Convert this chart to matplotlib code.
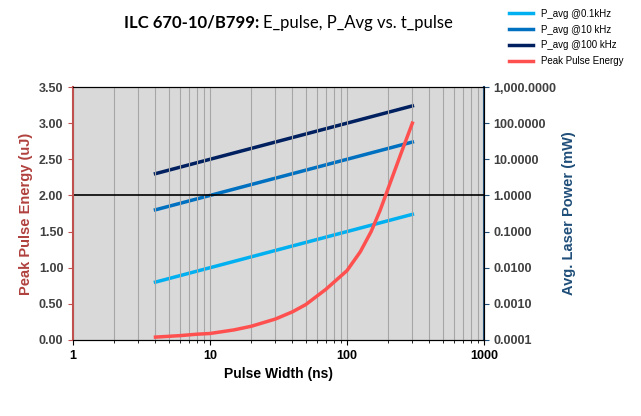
import matplotlib
matplotlib.use("Agg")
import matplotlib.pyplot as plt
import numpy as np
from matplotlib.ticker import FixedLocator, FuncFormatter

t_power = [4, 300]
p_01k = [0.004, 0.3]
p_10k = [0.4, 30]
p_100k = [4, 300]
t_energy = [4, 6, 8, 10, 15, 20, 30, 40, 50, 70, 100, 125, 150, 175, 200, 250, 300]
energy = [0.04, 0.06, 0.08, 0.09, 0.14, 0.19, 0.29, 0.39, 0.49, 0.70, 0.96, 1.22, 1.5, 1.8, 2.1, 2.6, 3.0]
left_ticks = [0, 0.5, 1.0, 1.5, 2.0, 2.5, 3.0, 3.5]
right_ticks = [0.0001, 0.001, 0.01, 0.1, 1, 10, 100, 1000]
x_ticks = [1, 10, 100, 1000]

plt.rcParams["font.family"] = "Liberation Sans"
fig = plt.figure(figsize=(6.41, 4.16), dpi=100)
ax = fig.add_axes([73/641, 1-340/416, 411/641, 253/416])
ax.set_facecolor("#D9D9D9")
ax.set_xscale("log")
ax.set_xlim(1, 1000)
ax.set_ylim(0, 3.5)
ax.xaxis.set_major_locator(FixedLocator(x_ticks))
ax.xaxis.set_major_formatter(FuncFormatter(lambda v, p: f"{v:g}"))
ax.set_yticks(left_ticks)
ax.yaxis.set_major_formatter(FuncFormatter(lambda v, p: f"{v:.2f}"))
ax.grid(True, which="both", axis="x", color="#A6A6A6", lw=0.8)
ax.axhline(2.0, color="black", lw=1.2)
ax.tick_params(labelsize=9)
for lbl in ax.get_xticklabels() + ax.get_yticklabels():
    lbl.set_fontweight("bold")
ax.tick_params(axis="y", colors="#C0504D", labelcolor="#404040")
ax.spines["left"].set_color("#C0504D")
ax.spines["left"].set_linewidth(1.5)
ax.set_xlabel("Pulse Width (ns)", fontweight="bold", fontsize=10)
ax.set_ylabel("Peak Pulse Energy (uJ)", fontweight="bold", fontsize=10.5, color="#B0413E")

ax2 = ax.twinx()
ax2.set_yscale("log")
ax2.set_ylim(0.0001, 1000)
ax2.set_yticks(right_ticks)
ax2.yaxis.set_minor_locator(FixedLocator([]))
ax2.yaxis.set_major_formatter(FuncFormatter(lambda v, p: f"{v:,.4f}"))
ax2.tick_params(labelsize=9, colors="#1F4E79", labelcolor="#404040")
for lbl in ax2.get_yticklabels():
    lbl.set_fontweight("bold")
ax2.spines["right"].set_color("#1F4E79")
ax2.spines["right"].set_linewidth(1.5)
ax2.spines["left"].set_visible(False)
ax2.set_ylabel("Avg. Laser Power (mW)", fontweight="bold", fontsize=10.5, color="#1F4E79")

l1, = ax2.plot(t_power, p_01k, color="#00B0F0", lw=2.5, label="P_avg @0.1kHz")
l2, = ax2.plot(t_power, p_10k, color="#0070C0", lw=2.5, label="P_avg @10 kHz")
l3, = ax2.plot(t_power, p_100k, color="#002060", lw=2.5, label="P_avg @100 kHz")
l4, = ax.plot(t_energy, energy, color="#FF5050", lw=2.5, label="Peak Pulse Energy")
ax.set_zorder(ax2.get_zorder() + 1)
ax.patch.set_visible(False)
ax2.patch.set_visible(True)
ax2.patch.set_facecolor("#D9D9D9")
ax.set_facecolor("none")

fig.legend(handles=[l1, l2, l3, l4], loc="upper left", bbox_to_anchor=(500/641, 1.0),
           frameon=False, fontsize=7, handlelength=2.5, labelspacing=0.6)

fig.text(0.41, 0.945, "ILC 670-10/B799: ", fontweight="bold", fontsize=12, ha="right", va="center", family="Lato")
fig.text(0.41, 0.945, "E_pulse, P_Avg vs. t_pulse", fontsize=12, ha="left", va="center", family="Lato")

fig.savefig("out.png", dpi=100)
